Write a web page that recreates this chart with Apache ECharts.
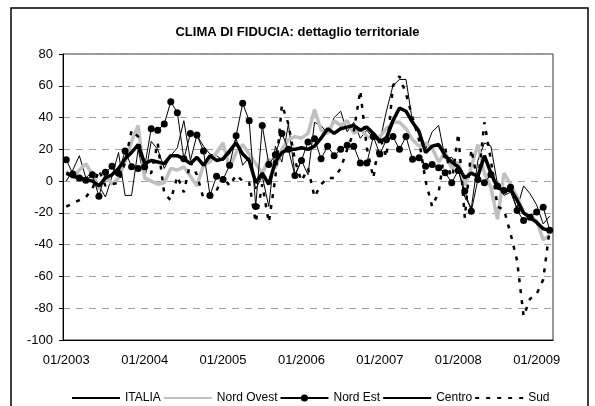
<!DOCTYPE html>
<html>
<head>
<meta charset="utf-8">
<script src="https://cdn.jsdelivr.net/npm/echarts@6/dist/echarts.min.js"></script>
<style>
html,body{margin:0;padding:0;background:#fff;}
#chart{width:595px;height:406px;}
</style>
</head>
<body>
<div id="chart"></div>
<script>
const months = [
 '01/2003','02/2003','03/2003','04/2003','05/2003','06/2003','07/2003','08/2003','09/2003','10/2003','11/2003','12/2003',
 '01/2004','02/2004','03/2004','04/2004','05/2004','06/2004','07/2004','08/2004','09/2004','10/2004','11/2004','12/2004',
 '01/2005','02/2005','03/2005','04/2005','05/2005','06/2005','07/2005','08/2005','09/2005','10/2005','11/2005','12/2005',
 '01/2006','02/2006','03/2006','04/2006','05/2006','06/2006','07/2006','08/2006','09/2006','10/2006','11/2006','12/2006',
 '01/2007','02/2007','03/2007','04/2007','05/2007','06/2007','07/2007','08/2007','09/2007','10/2007','11/2007','12/2007',
 '01/2008','02/2008','03/2008','04/2008','05/2008','06/2008','07/2008','08/2008','09/2008','10/2008','11/2008','12/2008',
 '01/2009','02/2009','03/2009'
];
const seriesNames = ['ITALIA','Nord Ovest','Nord Est','Centro','Sud'];
const italia = [
 5,3,2,1,0,-3,2,4,8,14,18,23,
 11,13,12,11,16,16,14,11,15,10,16,13,
 14,19,24,17,13,-1,5,-2,12,18,20,20,
 21,20,22,27,33,30,33,34,35,32,34,30,
 25,27,38,46,44,37,31,18,22,23,16,12,
 9,2,5,3,16,5,-4,-6,-5,-12,-20,-23,
 -26,-30,-31
];
const nordOvest = [
 6,2,7,11,4,-5,3,-2,2,12,25,35,
 2,0,-2,-1,8,7,9,3,-3,10,12,18,
 24,8,18,23,17,11,5,14,8,20,26,28,
 27,30,45,32,30,38,35,38,30,33,28,27,
 28,33,37,37,33,26,22,24,21,12,18,8,
 12,-3,9,23,5,-4,-24,5,-2,-10,-20,-22,
 -25,-37,-34
];
const nordEst = [
 13.5,4.5,2,0.5,4,-9.5,5.5,9.3,5,19,9,8,
 9,33,32,36,50,43,14,30,29,19,-9,3,
 1,10,28.5,49,38,-16,35,10.5,16.6,30,20,3.6,
 13,24.6,26.7,14,22,16,20,22.5,22,11.4,11.4,28,
 17,26,28,20,28,13.7,14.7,9.3,10.5,8.4,5.3,-1,
 6.7,-6.3,-18.9,1,-1,4.2,-3.1,-5.9,-3.8,-18.5,-24.8,-22.7,
 -19.5,-16.4,-31
];
const centro = [
 0,7,16,2,6,-3,-10,3,18,-9,-9,20,
 1,25,20,8,16,21,38,13,29,22,17,16,
 13,17,27,10,15,-5,3,-16,22,12,36,4,
 13,4,37,35,30,40,44,31,37,27,32,27,
 25,44,60,64,64,37,33,20,31,35,14,15,
 8,-10,-17,13,24,22,-2,-9,-7,-17,-3,-8,
 -15,-27,-22
];
const sud = [
 -16,-14,-12,-10,-5,7,-3,-2,-1,12,32,28,
 6,5,24,-8,-12,3,-7,12,4,-11,-8,-6,
 3,-3,4,0,-1,-26,-2,-26,2,48,36,13,
 0,8,-10,-2,2,2,8,20,31,57,21,2,
 28,15,60,66,55,40,26,0,-16,-7,21,-1,
 30,-23,20,-1,37,13,-16,-18,-33,-50,-85,-74,
 -71,-62,-30
];
const yTicks = {min:-100, max:80, step:20};

const chart = echarts.init(document.getElementById('chart'), null, {renderer:'canvas'});
const FONT = 'Liberation Sans, Arial, sans-serif';
const hideSym = {opacity:0};
const option = {
  animation:false,
  backgroundColor:'#fff',
  textStyle:{fontFamily:FONT},
  title:{
    text:'CLIMA DI FIDUCIA: dettaglio territoriale',
    left:'center', top:21,
    textStyle:{fontFamily:FONT,fontSize:13,fontWeight:'bold',color:'#000'}
  },
  graphic:[{
    type:'rect', silent:true, z:-1,
    shape:{x:11,y:8,width:577,height:430},
    style:{fill:'none',stroke:'#000',lineWidth:1.5}
  }],
  legend:{
    top:387, left:66,
    itemWidth:48, itemHeight:9, itemGap:2,
    textStyle:{fontFamily:FONT,fontSize:12,color:'#000'},
    data:[
      {name:'ITALIA', itemStyle:hideSym},
      {name:'Nord Ovest', itemStyle:hideSym},
      {name:'Nord Est'},
      {name:'Centro', itemStyle:hideSym},
      {name:'Sud', itemStyle:hideSym}
    ]
  },
  grid:{left:63, top:54, width:490, height:286, show:true, borderColor:'#333', borderWidth:1, backgroundColor:'#fff'},
  xAxis:[{
    type:'category', data:months, boundaryGap:true,
    axisLine:{onZero:false,lineStyle:{color:'#000',width:1}},
    axisTick:{interval:11,length:4,lineStyle:{color:'#000'}},
    axisLabel:{interval:11,fontFamily:FONT,fontSize:13,color:'#000',margin:14},
    splitLine:{show:false}
  },{
    type:'category', data:months, boundaryGap:true, position:'bottom',
    axisLine:{show:false,onZero:false},
    axisTick:{interval:11,length:4,inside:true,lineStyle:{color:'#000'}},
    axisLabel:{show:false}, splitLine:{show:false}
  }],
  yAxis:{
    type:'value', min:yTicks.min, max:yTicks.max, interval:yTicks.step,
    axisLine:{show:true,onZero:false,lineStyle:{color:'#000',width:1}},
    axisTick:{show:true,length:4,lineStyle:{color:'#000'}},
    axisLabel:{fontFamily:FONT,fontSize:13,color:'#000',margin:10},
    splitLine:{show:true,lineStyle:{color:'#a0a0a0',type:[7,6],width:1}}
  },
  series:[
    {name:'ITALIA',type:'line',data:italia,symbol:'none',lineStyle:{color:'#000',width:3.5},itemStyle:{color:'#000'},z:5},
    {name:'Nord Ovest',type:'line',data:nordOvest,symbol:'none',lineStyle:{color:'#c0c0c0',width:3.5},itemStyle:{color:'#c0c0c0'},z:3},
    {name:'Nord Est',type:'line',data:nordEst,symbol:'circle',symbolSize:7,showAllSymbol:true,lineStyle:{color:'#000',width:1},itemStyle:{color:'#000'},z:4},
    {name:'Centro',type:'line',data:centro,symbol:'none',lineStyle:{color:'#000',width:1},itemStyle:{color:'#000'},z:2},
    {name:'Sud',type:'line',data:sud,symbol:'none',lineStyle:{color:'#000',width:2.5,type:[4,7]},itemStyle:{color:'#000'},z:6}
  ]
};
chart.setOption(option);
</script>
</body>
</html>
